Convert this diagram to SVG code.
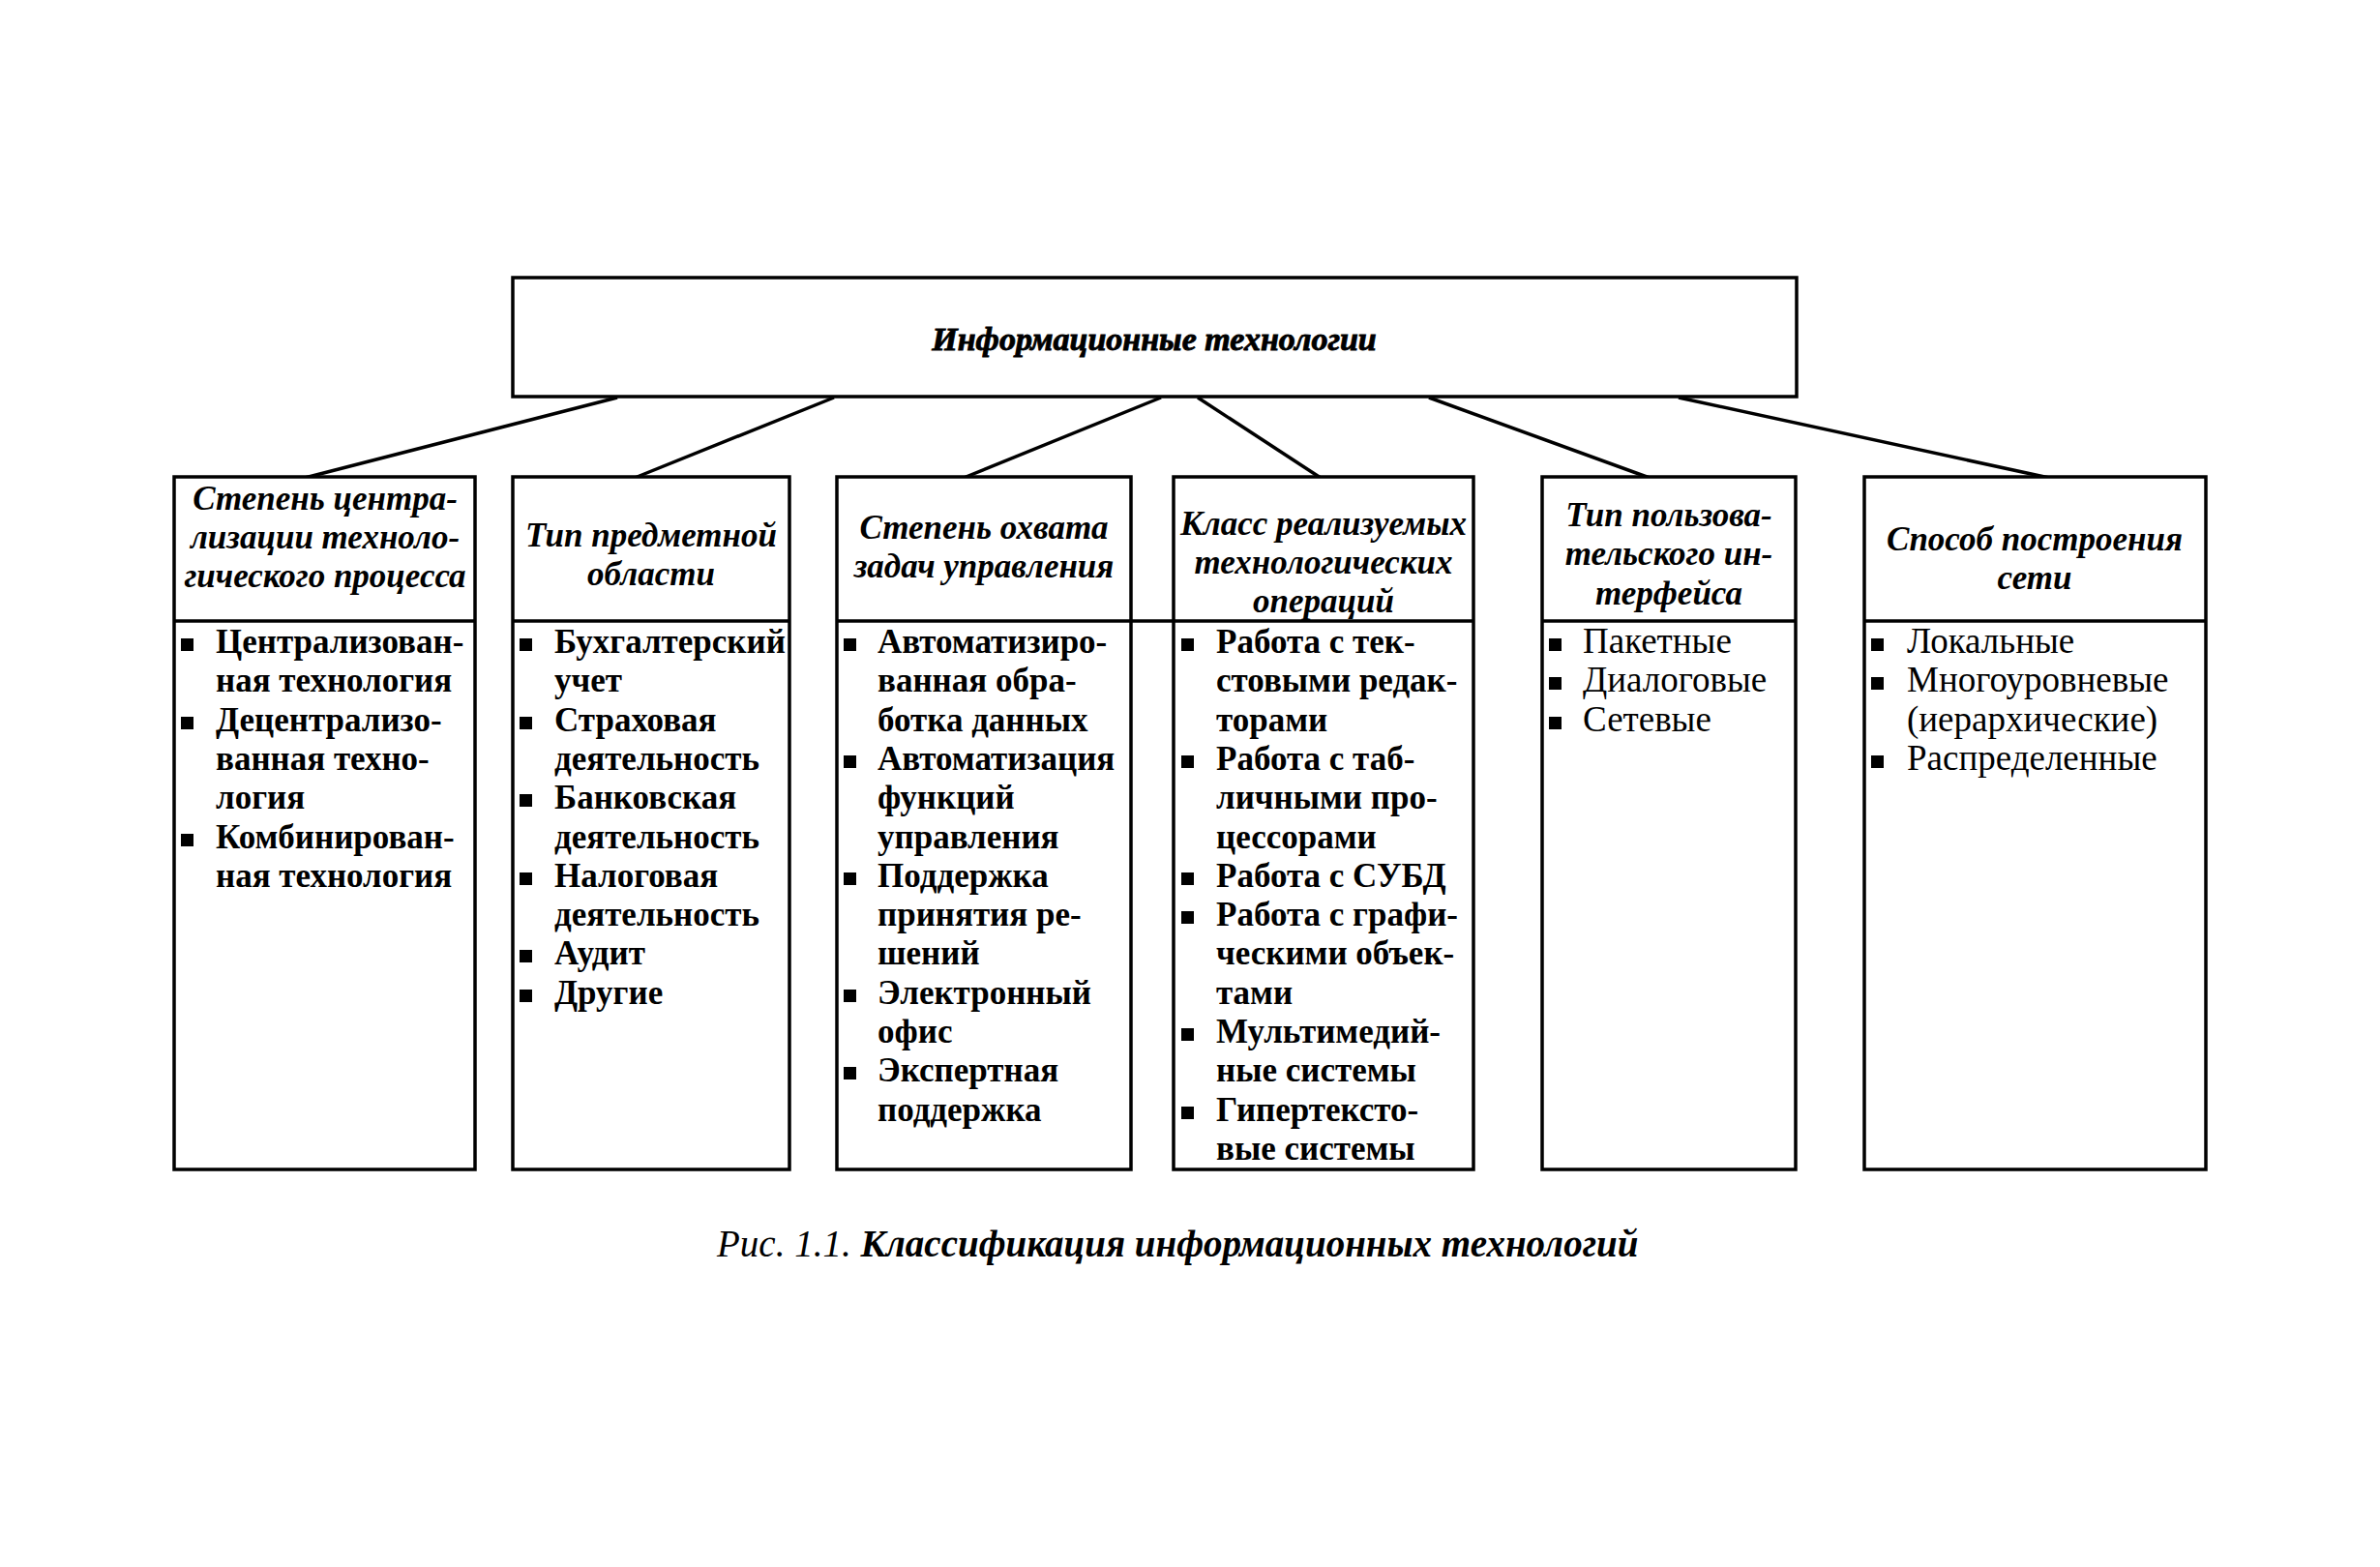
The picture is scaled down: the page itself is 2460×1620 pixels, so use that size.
<svg xmlns="http://www.w3.org/2000/svg" width="2460" height="1620" viewBox="0 0 2460 1620">
<style>
.box{fill:#fff;stroke:#000;stroke-width:3.5}
.ln{stroke:#000;stroke-width:3.5;fill:none}
.hd{font-family:"Liberation Serif",serif;font-style:italic;font-weight:bold;font-size:35px;text-anchor:middle;fill:#000}
.tt{font-family:"Liberation Serif",serif;font-style:italic;font-weight:bold;font-size:34px;text-anchor:middle;fill:#000;stroke:#000;stroke-width:0.9}
.bd{font-family:"Liberation Serif",serif;font-weight:bold;font-size:35px;fill:#000}
.rg{font-family:"Liberation Serif",serif;font-weight:normal;font-size:37px;fill:#000}
.cap{font-family:"Liberation Serif",serif;font-style:italic;font-size:39px;fill:#000}
</style>
<defs><rect id="b" width="13" height="13" fill="#000"/></defs>
<rect width="2460" height="1620" fill="#fff"/>
<g id="connectors">
<line class="ln" x1="638" y1="411" x2="315" y2="494"/>
<line class="ln" x1="862" y1="411" x2="656" y2="494"/>
<line class="ln" x1="1200" y1="411" x2="996" y2="494"/>
<line class="ln" x1="1238" y1="411" x2="1365" y2="494"/>
<line class="ln" x1="1477" y1="411" x2="1705" y2="494"/>
<line class="ln" x1="1735" y1="411" x2="2118" y2="494"/>
</g>
<g id="root">
<rect class="box" x="530" y="287" width="1327" height="123"/>
<text class="tt" x="1193" y="362">Информационные технологии</text>
</g>
<g id="n1">
<rect class="box" x="180" y="493" width="311" height="716"/>
<line class="ln" x1="180" y1="642" x2="491" y2="642"/>
<text class="hd"><tspan x="336" y="527">Степень центра-</tspan><tspan x="336" y="567">лизации техноло-</tspan><tspan x="336" y="607">гического процесса</tspan></text>
<use href="#b" x="187" y="660"/><use href="#b" x="187" y="741"/><use href="#b" x="187" y="862"/>
<text class="bd"><tspan x="223" y="675">Централизован-</tspan><tspan x="223" y="715">ная технология</tspan><tspan x="223" y="756">Децентрализо-</tspan><tspan x="223" y="796">ванная техно-</tspan><tspan x="223" y="836">логия</tspan><tspan x="223" y="877">Комбинирован-</tspan><tspan x="223" y="917">ная технология</tspan></text>
</g>
<g id="n2">
<rect class="box" x="530" y="493" width="286" height="716"/>
<line class="ln" x1="530" y1="642" x2="816" y2="642"/>
<text class="hd"><tspan x="673" y="565">Тип предметной</tspan><tspan x="673" y="605">области</tspan></text>
<use href="#b" x="537" y="660"/><use href="#b" x="537" y="741"/><use href="#b" x="537" y="821"/><use href="#b" x="537" y="902"/><use href="#b" x="537" y="982"/><use href="#b" x="537" y="1023"/>
<text class="bd"><tspan x="573" y="675">Бухгалтерский</tspan><tspan x="573" y="715">учет</tspan><tspan x="573" y="756">Страховая</tspan><tspan x="573" y="796">деятельность</tspan><tspan x="573" y="836">Банковская</tspan><tspan x="573" y="877">деятельность</tspan><tspan x="573" y="917">Налоговая</tspan><tspan x="573" y="957">деятельность</tspan><tspan x="573" y="997">Аудит</tspan><tspan x="573" y="1038">Другие</tspan></text>
</g>
<g id="n3">
<rect class="box" x="865" y="493" width="304" height="716"/>
<line class="ln" x1="865" y1="642" x2="1213" y2="642"/>
<text class="hd"><tspan x="1017" y="557">Степень охвата</tspan><tspan x="1017" y="597">задач управления</tspan></text>
<use href="#b" x="872" y="660"/><use href="#b" x="872" y="781"/><use href="#b" x="872" y="902"/><use href="#b" x="872" y="1023"/><use href="#b" x="872" y="1103"/>
<text class="bd"><tspan x="907" y="675">Автоматизиро-</tspan><tspan x="907" y="715">ванная обра-</tspan><tspan x="907" y="756">ботка данных</tspan><tspan x="907" y="796">Автоматизация</tspan><tspan x="907" y="836">функций</tspan><tspan x="907" y="877">управления</tspan><tspan x="907" y="917">Поддержка</tspan><tspan x="907" y="957">принятия ре-</tspan><tspan x="907" y="997">шений</tspan><tspan x="907" y="1038">Электронный</tspan><tspan x="907" y="1078">офис</tspan><tspan x="907" y="1118">Экспертная</tspan><tspan x="907" y="1159">поддержка</tspan></text>
</g>
<g id="n4">
<rect class="box" x="1213" y="493" width="310" height="716"/>
<line class="ln" x1="1213" y1="642" x2="1523" y2="642"/>
<text class="hd"><tspan x="1368" y="553">Класс реализуемых</tspan><tspan x="1368" y="593">технологических</tspan><tspan x="1368" y="633">операций</tspan></text>
<use href="#b" x="1221" y="660"/><use href="#b" x="1221" y="781"/><use href="#b" x="1221" y="902"/><use href="#b" x="1221" y="942"/><use href="#b" x="1221" y="1063"/><use href="#b" x="1221" y="1144"/>
<text class="bd"><tspan x="1257" y="675">Работа с тек-</tspan><tspan x="1257" y="715">стовыми редак-</tspan><tspan x="1257" y="756">торами</tspan><tspan x="1257" y="796">Работа с таб-</tspan><tspan x="1257" y="836">личными про-</tspan><tspan x="1257" y="877">цессорами</tspan><tspan x="1257" y="917">Работа с СУБД</tspan><tspan x="1257" y="957">Работа с графи-</tspan><tspan x="1257" y="997">ческими объек-</tspan><tspan x="1257" y="1038">тами</tspan><tspan x="1257" y="1078">Мультимедий-</tspan><tspan x="1257" y="1118">ные системы</tspan><tspan x="1257" y="1159">Гипертексто-</tspan><tspan x="1257" y="1199">вые системы</tspan></text>
</g>
<g id="n5">
<rect class="box" x="1594" y="493" width="262" height="716"/>
<line class="ln" x1="1594" y1="642" x2="1856" y2="642"/>
<text class="hd"><tspan x="1725" y="544">Тип пользова-</tspan><tspan x="1725" y="584">тельского ин-</tspan><tspan x="1725" y="625">терфейса</tspan></text>
<use href="#b" x="1601" y="660"/><use href="#b" x="1601" y="700"/><use href="#b" x="1601" y="741"/>
<text class="rg"><tspan x="1636" y="675">Пакетные</tspan><tspan x="1636" y="715">Диалоговые</tspan><tspan x="1636" y="756">Сетевые</tspan></text>
</g>
<g id="n6">
<rect class="box" x="1927" y="493" width="353" height="716"/>
<line class="ln" x1="1927" y1="642" x2="2280" y2="642"/>
<text class="hd"><tspan x="2103" y="569">Способ построения</tspan><tspan x="2103" y="609">сети</tspan></text>
<use href="#b" x="1934" y="660"/><use href="#b" x="1934" y="700"/><use href="#b" x="1934" y="781"/>
<text class="rg"><tspan x="1971" y="675">Локальные</tspan><tspan x="1971" y="715">Многоуровневые</tspan><tspan x="1971" y="756">(иерархические)</tspan><tspan x="1971" y="796">Распределенные</tspan></text>
</g>
<text class="cap" x="741" y="1299">Рис. 1.1. <tspan font-weight="bold">Классификация информационных технологий</tspan></text>
</svg>
